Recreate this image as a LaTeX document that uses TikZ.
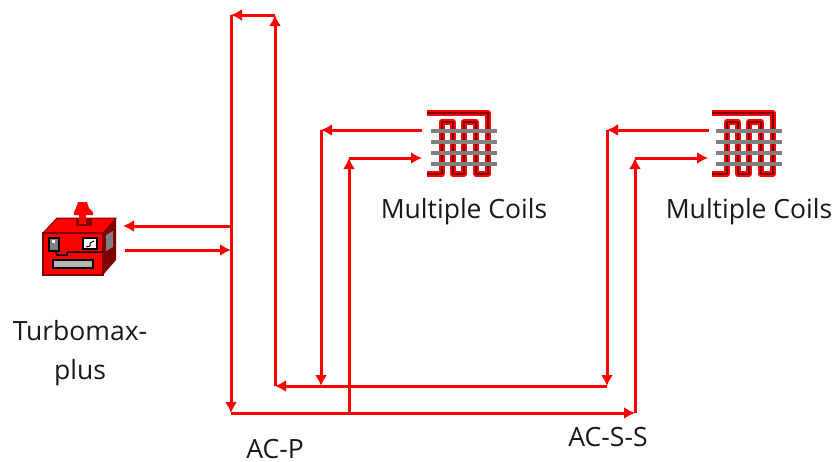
\documentclass[tikz,border=0pt]{standalone}
\usepackage{xcolor}
\usepackage{fontspec}
\setmainfont{Open Sans}
\usepackage{tikz}
\usetikzlibrary{calc,positioning,arrows.meta}
\definecolor{wirered}{RGB}{255,0,0}
\definecolor{darkred}{RGB}{128,0,0}
\definecolor{bargray}{RGB}{128,128,128}

\begin{document}
\begin{tikzpicture}
          [x=1pt,y=-1pt,
           every edge/.style={draw=wirered,line width=3pt,->},
           iconbox/.style={minimum width=62pt,minimum height=62pt,inner sep=0pt},
           caption/.style={align=center,font=\fontsize{26.5}{39}\selectfont,text=black!90},
           node distance=69pt and 0pt,
           on grid,
           >={Latex[length=11pt,width=12pt]},
           coil icon/.pic={
             \draw[wirered,line width=5.5pt,line join=round]
               (-31,31) -- (-16,31) -- (-16,-21) -- (-5,-21) -- (-5,31) -- (6,31) -- (6,-21) -- (18,-21) -- (18,31) -- (30,31) -- (30,-30) -- (-31,-30);
             \draw[darkred,line width=2.5pt,line join=round]
               (-31,31) -- (-16,31) -- (-16,-21) -- (-5,-21) -- (-5,31) -- (6,31) -- (6,-21) -- (18,-21) -- (18,31) -- (30,31) -- (30,-30) -- (-31,-30);
             \foreach \bary in {-12,-1,10,21}
               \draw[bargray,line width=3.5pt] (-27,\bary) -- (39,\bary);
           }
          ]
          \useasboundingbox (0,0) rectangle (837,461);
          % icons
          \node[iconbox] (turbomax) at (80,246) {};
          \node[iconbox] (coil1) at (458,143) {};
          \node[iconbox] (coil2) at (743,143) {};
          \pic at (coil1) {coil icon};
          \pic at (coil2) {coil icon};
          % box with gauges
          \fill[wirered,draw=darkred,line width=1pt] (43,233) -- (57,218) -- (116,218) -- (103,233) -- cycle;
          \fill[darkred] (103,233) -- (116,218) -- (116,260) -- (103,275) -- cycle;
          \fill[wirered,draw=darkred,line width=1.5pt] (43,233) rectangle (103,275);
          \fill[bargray] (106,235) -- (113,231) -- (113,247) -- (106,251) -- cycle;
          \fill[darkred] (76,219) rectangle (92,226);
          \fill[wirered] (79,213) rectangle (86,224);
          \fill[wirered] (78,202) -- (87,202) -- (89,208) -- (93,212) -- (93,215) -- (74,215) -- (74,212) -- (76,208) -- cycle;
          \fill[bargray,draw=black,line width=1.5pt] (49,238) rectangle (59,251);
          \fill[white] (52,240) rectangle (55,243);
          \fill[white,draw=black,line width=1.5pt] (83,238) rectangle (97,249);
          \draw[black,line width=1pt] (86,247) -- (90,246) -- (90,243) -- (94,241);
          \fill[bargray!60,draw=black,line width=1.5pt] (53,260) rectangle (93,268);
          \draw[black,line width=1.5pt] (67,252) -- (103,252) (55,251) -- (57,255) -- (67,255) -- (67,252);
          % corners of the lines
          \coordinate (coil1 out) at (422,130);
          \coordinate (coil1 in) at (422,158);
          \coordinate (coil2 out) at (709,130);
          \coordinate (coil2 in) at (708,158);
          \coordinate (turbo in) at (123,226);
          \coordinate (turbo out) at (125,250);
          \coordinate (return top) at (275,15);
          \coordinate (supply top) at (231,15);
          \coordinate (return left) at (275,386);
          \coordinate (supply left) at (231,413);
          \coordinate (return c1) at (321,386);
          \coordinate (corner c1) at (321,130);
          \coordinate (supply c1) at (349,413);
          \coordinate (head c1) at (349,158);
          \coordinate (return c2) at (607,386);
          \coordinate (corner c2) at (607,130);
          \coordinate (supply c2) at (635,413);
          \coordinate (head c2) at (635,158);
          \coordinate (tap in) at (231,226);
          \coordinate (tap out) at (231,250);
          \path
            (coil2 out) edge (corner c2)
            (corner c2) edge (return c2)
            (return c2) edge (return left)
            (return left) edge (return top)
            (return top) edge (supply top)
            (supply top) edge (supply left)
            (supply left) edge (supply c2)
            (supply c2) edge (head c2)
            (head c2) edge (coil2 in)
            (coil1 out) edge (corner c1)
            (corner c1) edge (return c1)
            (supply c1) edge (head c1)
            (head c1) edge (coil1 in)
            (tap in) edge (turbo in)
            (turbo out) edge (tap out);
          % labels
          \node[caption,below=of coil1,xshift=6pt] (coil1 label) {Multiple Coils};
          \node[caption,below=of coil2,xshift=6pt] (coil2 label) {Multiple Coils};
          \node[caption,below=107pt of turbomax] (turbomax label) {Turbomax-\\plus};
          \node[caption] (acp label) at (275,449) {AC-P};
          \node[caption] (acss label) at (608,437) {AC-S-S};
\end{tikzpicture}
\end{document}
